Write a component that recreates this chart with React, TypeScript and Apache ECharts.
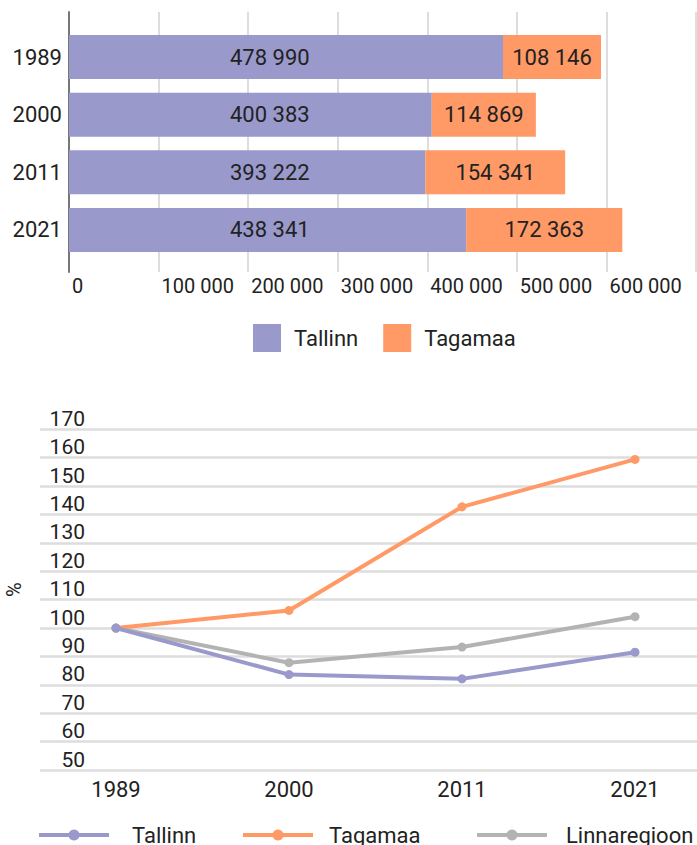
import React, { useEffect, useRef } from "react";
import * as echarts from "echarts";

const years = ["1989", "2000", "2011", "2021"];
const tallinnPop = [478990, 400383, 393222, 438341];
const tagamaaPop = [108146, 114869, 154341, 172363];
const xTicksMax = 700000;
const xTickStep = 100000;

const tallinnPct = [100, 83.6, 82.1, 91.5];
const tagamaaPct = [100, 106.2, 142.7, 159.4];
const regionPct = [100, 87.8, 93.3, 104.0];

const PURPLE = "#9999CC";
const ORANGE = "#FF9966";
const GRAY = "#B3B3B3";
const TEXT = "#222222";
const GRID = "#DDDDDD";
const FONT = "Roboto";

const fmt = (v: number) => String(v).replace(/\B(?=(\d{3})+(?!\d))/g, " ");

const lineLegend = (name: string, left: number, gap: number) => ({
  data: [name],
  left,
  top: 824,
  padding: 0,
  itemWidth: 70,
  itemHeight: 14,
  lineStyle: { width: 4 },
  formatter: (n: string) => n.replace(" %", ""),
  textStyle: { fontFamily: FONT, fontSize: 22, color: TEXT, padding: [0, 0, 0, gap] },
});

export default function App() {
  const ref = useRef<HTMLDivElement>(null);
  useEffect(() => {
    if (!ref.current) return;
    const chart = echarts.init(ref.current, undefined, { renderer: "svg" });
    const option: any = {
      animation: false,
      textStyle: { fontFamily: FONT, color: TEXT },
      grid: [
        { left: 69, right: 1, top: 12, height: 260, outerBoundsMode: "none" },
        { left: 69, right: 1, top: 28.2, height: 230.6, outerBoundsMode: "none" },
        { left: 40, right: 0, top: 429.3, height: 340.7, outerBoundsMode: "none" },
        { left: 29.5, right: -24.5, top: 429.3, height: 340.7, outerBoundsMode: "none" },
      ],
      legend: [
        {
          data: ["Tallinn", "Tagamaa"],
          left: 253,
          top: 324,
          padding: 0,
          icon: "rect",
          itemWidth: 28,
          itemHeight: 28,
          itemGap: 25,
          textStyle: { fontFamily: FONT, fontSize: 22, color: TEXT, padding: [0, 0, 0, 8] },
        },
        lineLegend("Tallinn %", 37, 18),
        lineLegend("Tagamaa %", 241, 11),
        lineLegend("Linnaregioon", 475, 14),
      ],
      xAxis: [
        {
          gridIndex: 0,
          type: "value",
          min: 0,
          max: xTicksMax,
          interval: xTickStep,
          axisLine: { show: false },
          axisTick: { show: false },
          splitLine: { show: true, lineStyle: { color: GRID, width: 2 } },
          axisLabel: {
            fontFamily: FONT,
            fontSize: 20,
            color: TEXT,
            align: "left",
            margin: 4,
            padding: [0, 0, 0, 3],
            formatter: (v: number) => (v >= xTicksMax ? "" : fmt(v)),
          },
        },
        { gridIndex: 1, type: "value", min: 0, max: 692000, show: false },
        { gridIndex: 2, type: "value", min: 0, max: 1, show: false },
        {
          gridIndex: 3,
          type: "category",
          data: years,
          boundaryGap: true,
          axisLine: { show: false },
          axisTick: { show: false },
          axisLabel: { fontFamily: FONT, fontSize: 22, color: TEXT, margin: 8 },
        },
      ],
      yAxis: [
        {
          gridIndex: 0,
          type: "value",
          min: 0,
          max: 1,
          axisLine: { show: true, lineStyle: { color: "#777777", width: 2 } },
          axisTick: { show: false },
          axisLabel: { show: false },
          splitLine: { show: false },
        },
        {
          gridIndex: 1,
          type: "category",
          data: years,
          inverse: true,
          axisLine: { show: false },
          axisTick: { show: false },
          axisLabel: { fontFamily: FONT, fontSize: 22, color: TEXT, margin: 7 },
        },
        {
          gridIndex: 2,
          type: "value",
          min: 50,
          max: 170,
          interval: 10,
          name: "%",
          nameLocation: "middle",
          nameRotate: 90,
          nameGap: 16,
          nameTextStyle: { fontFamily: FONT, fontSize: 20, color: TEXT, padding: [0, 0, 0, 20] },
          axisLine: { show: false },
          axisTick: { show: false },
          splitLine: { show: true, lineStyle: { color: GRID, width: 2.5 } },
          axisLabel: {
            inside: true,
            align: "right",
            verticalAlign: "bottom",
            margin: 45,
            fontFamily: FONT,
            fontSize: 21,
            color: TEXT,
          },
        },
        { gridIndex: 3, type: "value", min: 50, max: 170, show: false },
      ],
      series: [
        {
          name: "Tallinn",
          type: "bar",
          stack: "pop",
          xAxisIndex: 1,
          yAxisIndex: 1,
          barWidth: 44,
          data: tallinnPop,
          itemStyle: { color: PURPLE },
          label: {
            show: true,
            position: [161, "50%"],
            align: "left",
            verticalAlign: "middle",
            fontFamily: FONT,
            fontSize: 22,
            color: TEXT,
            formatter: (p: any) => fmt(p.value),
          },
        },
        {
          name: "Tagamaa",
          type: "bar",
          stack: "pop",
          xAxisIndex: 1,
          yAxisIndex: 1,
          barWidth: 44,
          data: tagamaaPop,
          itemStyle: { color: ORANGE },
          label: {
            show: true,
            position: "inside",
            fontFamily: FONT,
            fontSize: 22,
            color: TEXT,
            formatter: (p: any) => fmt(p.value),
          },
        },
        {
          name: "Tallinn %",
          type: "line",
          xAxisIndex: 3,
          yAxisIndex: 3,
          data: tallinnPct,
          z: 5,
          symbol: "circle",
          symbolSize: 9,
          lineStyle: { color: PURPLE, width: 4 },
          itemStyle: { color: PURPLE },
        },
        {
          name: "Tagamaa %",
          type: "line",
          xAxisIndex: 3,
          yAxisIndex: 3,
          data: tagamaaPct,
          z: 4,
          symbol: "circle",
          symbolSize: 9,
          lineStyle: { color: ORANGE, width: 4 },
          itemStyle: { color: ORANGE },
        },
        {
          name: "Linnaregioon",
          type: "line",
          xAxisIndex: 3,
          yAxisIndex: 3,
          data: regionPct,
          z: 3,
          symbol: "circle",
          symbolSize: 9,
          lineStyle: { color: GRAY, width: 4 },
          itemStyle: { color: GRAY },
        },
      ],
    };
    chart.setOption(option);
    return () => chart.dispose();
  }, []);
  return (
    <div
      ref={ref}
      style={{ position: "fixed", left: 0, top: 0, width: 697, height: 845, background: "#fff" }}
    />
  );
}
